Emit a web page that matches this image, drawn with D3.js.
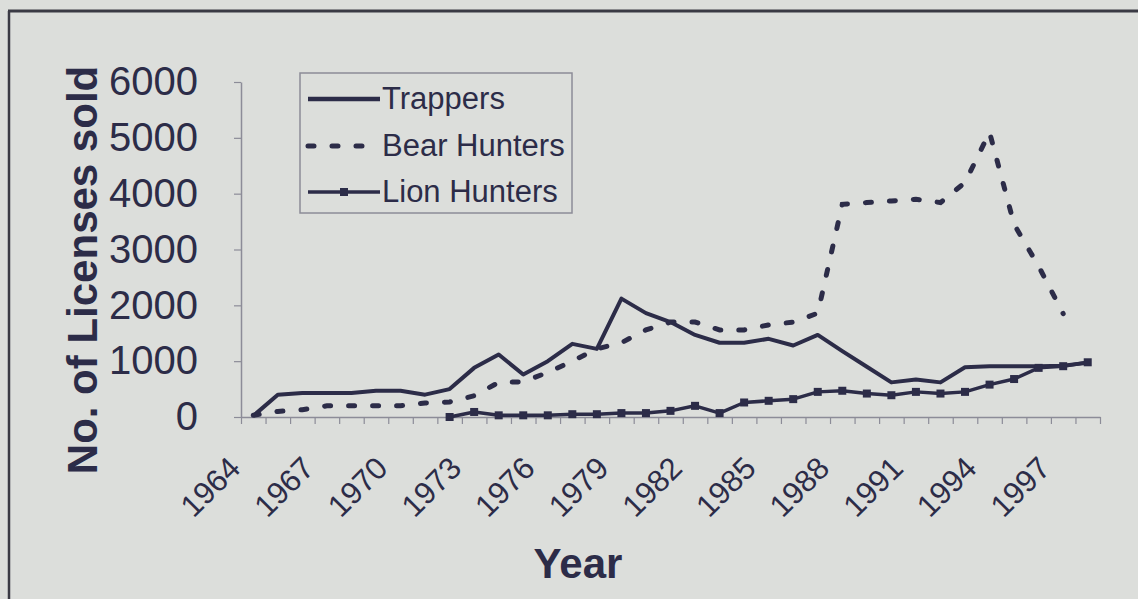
<!DOCTYPE html>
<html>
<head>
<meta charset="utf-8">
<script src="https://cdnjs.cloudflare.com/ajax/libs/d3/7.8.5/d3.min.js"></script>
<style>
  body { margin: 0; background: #dcdedb; }
  svg { display: block; font-family: "Liberation Sans", Arial, sans-serif; }
</style>
</head>
<body>
<div id="chart"></div>
<script>
// categories
const years = ["1964","1965","1966","1967","1968","1969","1970","1971","1972","1973",
  "1974","1975","1976","1977","1978","1979","1980","1981","1982","1983","1984","1985",
  "1986","1987","1988","1989","1990","1991","1992","1993","1994","1995","1996","1997","1998"];
const labelYears = ["1964","1967","1970","1973","1976","1979","1982","1985","1988","1991","1994","1997"];

// series
const trappers = [20, 400, 430, 430, 430, 470, 470, 400, 500, 880,
  1120, 760, 1000, 1310, 1220, 2120, 1860, 1700, 1470, 1330, 1330, 1400,
  1280, 1470, 1180, 900, 620, 670, 620, 890, 910, 910, 910, 920, 970];
const bearHunters = [30, 100, 130, 200, 200, 200, 200, 250, 270, 380,
  620, 630, 800, 1000, 1220, 1330, 1560, 1700, 1700, 1560, 1560, 1650,
  1700, 1860, 3810, 3840, 3870, 3900, 3840, 4200, 5100, 3450, 2700, 1850, null];
const lionHunters = [null, null, null, null, null, null, null, null, 0, 90,
  30, 30, 30, 50, 50, 70, 70, 110, 200, 70, 260, 290,
  320, 450, 470, 420, 390, 450, 420, 450, 580, 680, 880, 910, 980];
const yTicks = [0, 1000, 2000, 3000, 4000, 5000, 6000];

const W = 1138, H = 599;
const ink = "#2c2c48", axisCol = "#8c8c98";

const svg = d3.select("#chart").append("svg")
  .attr("width", W).attr("height", H);

// frame of the scanned figure
svg.append("line").attr("x1", 8).attr("x2", W).attr("y1", 11).attr("y2", 11)
  .attr("stroke", "#3a3a44").attr("stroke-width", 3);
svg.append("line").attr("x1", 9).attr("x2", 9).attr("y1", 11).attr("y2", H)
  .attr("stroke", "#3a3a44").attr("stroke-width", 2.5);

const plot = { left: 241, right: 1100, top: 82, bottom: 417 };

const x = d3.scaleBand().domain(years).range([plot.left, plot.right]).padding(0);
const xi = d3.scaleLinear().domain([0, years.length]).range([plot.left, plot.right]);
const y = d3.scaleLinear().domain([0, 6000]).range([plot.bottom, plot.top]);
const cx = d => x(d) + x.bandwidth() / 2;

// y axis
const yAxis = svg.append("g")
  .attr("transform", `translate(${plot.left},0)`)
  .call(d3.axisLeft(y).tickValues(yTicks).tickFormat(d3.format("d"))
    .tickSize(7).tickPadding(36).tickSizeOuter(0));
yAxis.select(".domain").attr("stroke", axisCol).attr("stroke-width", 1.5);
yAxis.selectAll(".tick line").attr("stroke", axisCol).attr("stroke-width", 1.2);
yAxis.selectAll("text").attr("fill", ink).attr("font-size", 40);

// x axis tick marks at category boundaries
const xAxis = svg.append("g")
  .attr("transform", `translate(0,${plot.bottom})`)
  .call(d3.axisBottom(xi).tickValues(d3.range(0, years.length + 1)).tickSize(7)
    .tickFormat("").tickSizeOuter(0));
xAxis.select(".domain").attr("stroke", axisCol).attr("stroke-width", 1.5);
xAxis.selectAll(".tick line").attr("stroke", axisCol).attr("stroke-width", 1.2);

// x labels, rotated
const xLab = svg.append("g")
  .attr("transform", `translate(0,${plot.bottom})`)
  .call(d3.axisBottom(x).tickValues(labelYears).tickSize(0).tickFormat(d => d));
xLab.select(".domain").remove();
xLab.selectAll("text")
  .attr("fill", ink).attr("font-size", 31)
  .attr("text-anchor", "end")
  .attr("transform", "translate(-11,53) rotate(-45)")
  .attr("y", 0).attr("dy", 0);

// axis titles
svg.append("text")
  .attr("transform", `translate(97,270) rotate(-90)`)
  .attr("text-anchor", "middle").attr("font-weight", "bold")
  .attr("font-size", 42).attr("fill", ink)
  .text("No. of Licenses sold");
svg.append("text")
  .attr("x", 578).attr("y", 578)
  .attr("text-anchor", "middle").attr("font-weight", "bold")
  .attr("font-size", 42).attr("fill", ink)
  .text("Year");

// lines
const line = d3.line()
  .defined(d => d.v != null)
  .x(d => cx(d.year)).y(d => y(d.v));
const pack = arr => years.map((yr, i) => ({ year: yr, v: arr[i] }));

svg.append("path").datum(pack(trappers))
  .attr("d", line).attr("fill", "none")
  .attr("stroke", ink).attr("stroke-width", 4).attr("stroke-linejoin", "round");

svg.append("path").datum(pack(bearHunters))
  .attr("d", line).attr("fill", "none")
  .attr("stroke", ink).attr("stroke-width", 5)
  .attr("stroke-dasharray", "6,18").attr("stroke-linecap", "round");

svg.append("path").datum(pack(lionHunters))
  .attr("d", line).attr("fill", "none")
  .attr("stroke", ink).attr("stroke-width", 3.5).attr("stroke-linejoin", "round");

svg.append("g").selectAll("rect")
  .data(pack(lionHunters).filter(d => d.v != null))
  .join("rect")
  .attr("x", d => cx(d.year) - 4).attr("y", d => y(d.v) - 4)
  .attr("width", 8).attr("height", 8).attr("fill", ink);

// legend
const lg = svg.append("g");
lg.append("rect").attr("x", 300).attr("y", 73).attr("width", 272).attr("height", 140)
  .attr("fill", "none").attr("stroke", axisCol).attr("stroke-width", 1.5);
const legendItems = [
  { name: "Trappers", y: 99, dash: null, w: 4.5, marker: false },
  { name: "Bear Hunters", y: 146, dash: "6,18", w: 5, marker: false },
  { name: "Lion Hunters", y: 192, dash: null, w: 3.5, marker: true }
];
legendItems.forEach(it => {
  lg.append("line").attr("x1", 308).attr("x2", 380).attr("y1", it.y).attr("y2", it.y)
    .attr("stroke", ink).attr("stroke-width", it.w)
    .attr("stroke-dasharray", it.dash).attr("stroke-linecap", it.dash ? "round" : "butt");
  if (it.marker) {
    lg.append("rect").attr("x", 340).attr("y", it.y - 4).attr("width", 8).attr("height", 8)
      .attr("fill", ink);
  }
  lg.append("text").attr("x", 382).attr("y", it.y + 10)
    .attr("font-size", 31).attr("fill", ink).text(it.name);
});
</script>
</body>
</html>
